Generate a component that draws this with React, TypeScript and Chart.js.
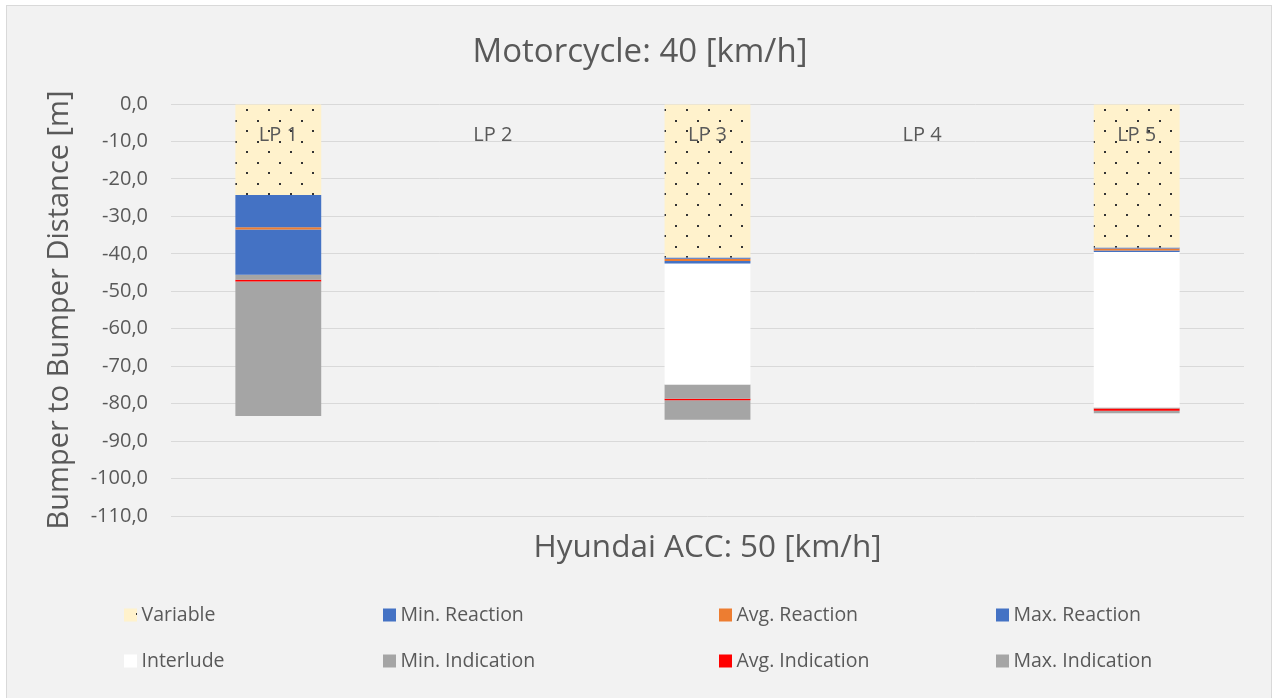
import React, { useEffect, useRef } from "react";
import { Chart, registerables } from "chart.js";

Chart.register(...registerables);

// ---------- data ----------
const categories = ["LP 1", "LP 2", "LP 3", "LP 4", "LP 5"];
const variable = [-24.3, null, -41.0, null, -38.3];
const minReaction = [-8.6, null, -0.3, null, -0.3];
const avgReaction = [-0.6, null, -0.6, null, -0.5];
const maxReaction = [-12.1, null, -0.7, null, -0.4];
const interlude = [0, null, -32.3, null, -41.5];
const minIndication = [-1.3, null, -3.8, null, -0.3];
const avgIndication = [-0.5, null, -0.4, null, -0.6];
const maxIndication = [-35.9, null, -5.2, null, -0.7];

const seriesLabels = [
  "Variable",
  "Min. Reaction",
  "Avg. Reaction",
  "Max. Reaction",
  "Interlude",
  "Min. Indication",
  "Avg. Indication",
  "Max. Indication",
];
const yMin = -110;
const yMax = 0;
const yStep = 10;

const chartTitle = "Motorcycle: 40 [km/h]";
const xTitle = "Hyundai ACC: 50 [km/h]";
const yTitle = "Bumper to Bumper Distance [m]";

const FONT = "'Open Sans', sans-serif";
const TEXT = "#595959";

function makeDots(): CanvasPattern | string {
  const c = document.createElement("canvas");
  c.width = 22;
  c.height = 21;
  const g = c.getContext("2d");
  if (!g) return "#fff2cc";
  g.fillStyle = "#fff2cc";
  g.fillRect(0, 0, 22, 21);
  g.fillStyle = "#333333";
  g.fillRect(4, 4, 2, 2);
  g.fillRect(15, 15, 2, 2);
  return g.createPattern(c, "repeat") || "#fff2cc";
}

const bgPlugin = {
  id: "bgPlugin",
  beforeDraw(chart: any) {
    const ctx = chart.ctx;
    ctx.save();
    ctx.fillStyle = "#ffffff";
    ctx.fillRect(0, 0, chart.width, chart.height);
    ctx.fillStyle = "#f2f2f2";
    ctx.fillRect(6, 5, 1266, chart.height - 5);
    ctx.strokeStyle = "#d9d9d9";
    ctx.lineWidth = 1;
    ctx.strokeRect(6.5, 5.5, 1265, chart.height);
    ctx.restore();
  },
};

const titlesPlugin = {
  id: "titlesPlugin",
  afterDraw(chart: any) {
    const ctx = chart.ctx;
    const area = chart.chartArea;
    ctx.save();
    ctx.fillStyle = TEXT;
    ctx.textAlign = "center";
    ctx.textBaseline = "alphabetic";
    ctx.font = `33px ${FONT}`;
    ctx.fillText(chartTitle, 640, 62);
    ctx.font = `31.5px ${FONT}`;
    ctx.fillText(xTitle, (area.left + area.right) / 2, 557);
    ctx.restore();
  },
};

const catLabelPlugin = {
  id: "catLabelPlugin",
  afterDatasetsDraw(chart: any) {
    const ctx = chart.ctx;
    const xs = chart.scales.x;
    const ys = chart.scales.y;
    ctx.save();
    ctx.font = `20px ${FONT}`;
    ctx.fillStyle = TEXT;
    ctx.textAlign = "center";
    ctx.textBaseline = "middle";
    const y0 = ys.getPixelForValue(0);
    chart.data.labels.forEach((lab: string, i: number) => {
      ctx.fillText(lab, xs.getPixelForValue(i), y0 + 31);
    });
    ctx.restore();
  },
};

const legendCols = [124, 383, 719, 996];
const legendRows = [615, 661];

const legendPlugin = {
  id: "gridLegend",
  afterDraw(chart: any) {
    const ctx = chart.ctx;
    ctx.save();
    ctx.font = `19.5px ${FONT}`;
    ctx.textBaseline = "middle";
    ctx.textAlign = "left";
    chart.data.datasets.forEach((ds: any, i: number) => {
      const x = legendCols[i % 4];
      const y = legendRows[Math.floor(i / 4)];
      ctx.fillStyle = ds.backgroundColor;
      ctx.fillRect(x, y - 6.5, 13, 13);
      ctx.fillStyle = TEXT;
      ctx.fillText(ds.label, x + 17.5, y);
    });
    ctx.restore();
  },
};

export default function App() {
  const ref = useRef<HTMLCanvasElement>(null);

  useEffect(() => {
    document.body.style.margin = "0";
    if (!ref.current) return;
    const dots = makeDots();
    const seriesData = [
      variable,
      minReaction,
      avgReaction,
      maxReaction,
      interlude,
      minIndication,
      avgIndication,
      maxIndication,
    ];
    const colors: any[] = [
      dots,
      "#4472c4",
      "#ed7d31",
      "#4472c4",
      "#ffffff",
      "#a5a5a5",
      "#ff0000",
      "#a5a5a5",
    ];
    const chart = new Chart(ref.current, {
      type: "bar",
      data: {
        labels: categories,
        datasets: seriesLabels.map((label, i) => ({
          label,
          data: seriesData[i] as any,
          backgroundColor: colors[i],
          borderWidth: 0,
          categoryPercentage: 1,
          barPercentage: 0.4,
        })),
      },
      options: {
        responsive: false,
        animation: false,
        devicePixelRatio: 1,
        layout: { padding: { left: 0, right: 33, top: 104, bottom: 182 } },
        font: { family: FONT } as any,
        plugins: {
          legend: { display: false },
          tooltip: { enabled: false },
          title: { display: false },
        },
        scales: {
          x: {
            stacked: true,
            position: "bottom",
            ticks: { display: false },
            grid: { display: false, drawTicks: false },
            border: { display: false },
            title: { display: false },
          },
          y: {
            stacked: true,
            min: yMin,
            max: yMax,
            afterFit(scale: any) {
              scale.width = 171;
            },
            ticks: {
              stepSize: yStep,
              color: TEXT,
              font: { family: FONT, size: 20 },
              padding: 23,
              callback: (v: any) => Number(v).toFixed(1).replace(".", ","),
            },
            grid: { color: "#d9d9d9", lineWidth: 1, drawTicks: false },
            border: { display: false },
            title: {
              display: true,
              text: yTitle,
              color: TEXT,
              font: { family: FONT, size: 29 },
              padding: { top: 42.6, bottom: 0 },
            },
          },
        },
      },
      plugins: [bgPlugin, catLabelPlugin, titlesPlugin, legendPlugin],
    });
    return () => chart.destroy();
  }, []);

  return (
    <div style={{ width: 1277, height: 698 }}>
      <canvas ref={ref} width={1277} height={698} style={{ display: "block" }} />
    </div>
  );
}
